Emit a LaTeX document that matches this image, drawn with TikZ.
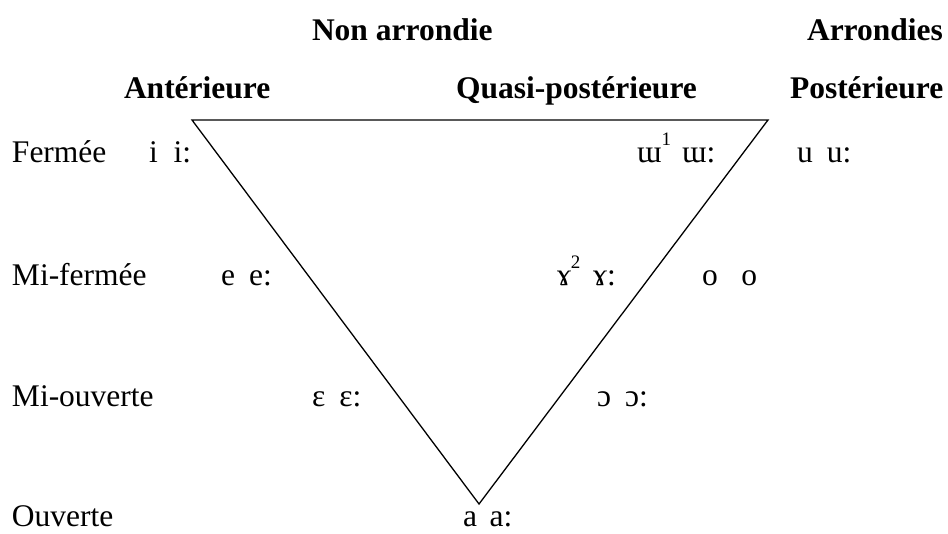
\documentclass[tikz,border=0pt]{standalone}
\usepackage{fontspec}
\setmainfont{Liberation Serif}
\begin{document}
\begin{tikzpicture}[x=1pt,y=-1pt,
  lbl/.style={anchor=base west,inner sep=0pt,outer sep=0pt,font=\fontsize{31.5}{36}\selectfont},
  hdr/.style={anchor=base west,inner sep=0pt,outer sep=0pt,font=\fontsize{31.5}{36}\selectfont\bfseries},
  edge/.style={draw=black,line width=1.3pt,line join=miter}]
\useasboundingbox (0,0) rectangle (948,534);
% headers
\node[hdr] (h1) at (312,41) {Non arrondie};
\node[hdr] (h2) at (807,41) {Arrondies};
\node[hdr] (h3) at (124,99) {Antérieure};
\node[hdr] (h4) at (456,99) {Quasi-postérieure};
\node[hdr] (h5) at (790,99) {Postérieure};
% triangle
\coordinate (tl) at (192,120);
\coordinate (tr) at (768,120);
\coordinate (bt) at (479,504);
\draw[edge] (tl) -- (tr) -- (bt) -- cycle;
% row labels
\node[lbl] (r1) at (12,163) {Fermée};
\node[lbl] (r2) at (12,286) {Mi-fermée};
\node[lbl] (r3) at (12,407) {Mi-ouverte};
\node[lbl] (r4) at (12,526) {Ouverte};
% vowels
\node[lbl] (v1) at (149,163) {i\hspace{0.5em}i:};
\node[lbl] (v2) at (637,163) {ɯ\raisebox{0.55em}{\fontsize{19}{20}\selectfont 1}\hspace{0.35em}ɯ:};
\node[lbl] (v3) at (797,163) {u\hspace{0.45em}u:};
\node[lbl] (v4) at (221,286) {e\hspace{0.45em}e:};
\node[lbl] (v5) at (557,286) {ɤ\raisebox{0.55em}{\fontsize{19}{20}\selectfont 2}\hspace{0.4em}ɤ:};
\node[lbl] (v6) at (702,286) {o\hspace{0.75em}o};
\node[lbl] (v7) at (312,407) {ɛ\hspace{0.45em}ɛ:};
\node[lbl] (v8) at (597,407) {ɔ\hspace{0.45em}ɔ:};
\node[lbl] (v9) at (463,526) {a\hspace{0.4em}a:};
\end{tikzpicture}
\end{document}
